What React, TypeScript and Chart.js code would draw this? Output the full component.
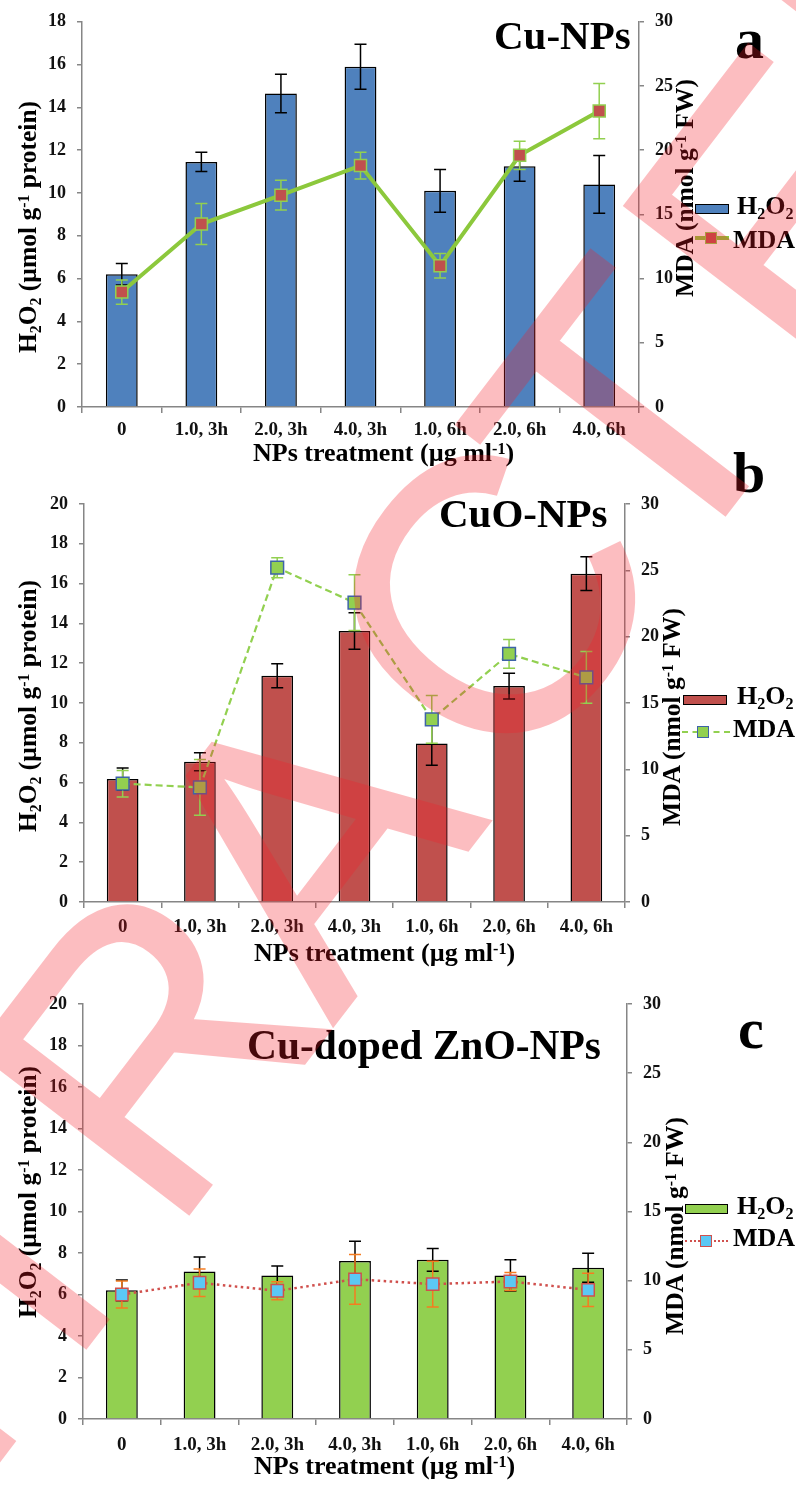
import React, { useEffect, useRef } from 'react';
import { Chart, registerables } from 'chart.js';
Chart.register(...registerables);

// ---------------- data ----------------
const categories = ['0', '1.0, 3h', '2.0, 3h', '4.0, 3h', '1.0, 6h', '2.0, 6h', '4.0, 6h'];

// Panel a: Cu-NPs
const h2o2CuNP = [6.2, 11.45, 14.65, 15.9, 10.1, 11.25, 10.4];
const h2o2CuNPErr = [0.5, 0.45, 0.9, 1.05, 1.0, 0.7, 1.35];
const mdaCuNP = [8.95, 14.25, 16.5, 18.8, 11.0, 19.6, 23.05];
const mdaCuNPErr = [0.95, 1.6, 1.15, 1.05, 0.95, 1.1, 2.15];

// Panel b: CuO-NPs
const h2o2CuO = [6.18, 7.05, 11.37, 13.62, 7.97, 10.85, 16.5];
const h2o2CuOErr = [0.55, 0.45, 0.6, 0.92, 1.1, 0.65, 0.85];
const mdaCuO = [8.92, 8.64, 25.2, 22.56, 13.77, 18.7, 16.93];
const mdaCuOErr = [1.0, 2.1, 0.75, 2.1, 1.8, 1.08, 1.95];

// Panel c: Cu-doped ZnO-NPs
const h2o2ZnO = [6.2, 7.11, 6.92, 7.62, 7.67, 6.92, 7.29];
const h2o2ZnOErr = [0.5, 0.7, 0.45, 0.95, 0.55, 0.75, 0.7];
const mdaZnO = [9.0, 9.85, 9.27, 10.1, 9.75, 9.94, 9.34];
const mdaZnOErr = [0.97, 1.0, 0.65, 1.8, 1.65, 0.65, 1.2];

// watermark word
const watermarkLetters: [string, number][] = [
  ['R', -1660], ['E', -1378], ['T', -1118], ['R', -880], ['A', -612],
  ['C', -320], ['T', -68], ['E', 185], ['D', 445],
];

const SERIF = '"Liberation Serif", "Times New Roman", serif';
const W = 796;
const H = 1511;

type PanelCfg = {
  top: number; h: number; plotTop: number; plotBottom: number; left: number; right: number;
  leftMax: number; bars: number[]; barErr: number[]; mda: number[]; mdaErr: number[];
  barColor: string; barPct: number; lineColor: string; lineWidth: number; dash: number[];
  ptFill: string; ptBorder: string; ptRadius: number; mdaErrColor: string; xPad: number;
};

const panels: PanelCfg[] = [
  {
    top: 0, h: 470, plotTop: 17, plotBottom: 407, left: 82, right: 639, leftMax: 18,
    bars: h2o2CuNP, barErr: h2o2CuNPErr, mda: mdaCuNP, mdaErr: mdaCuNPErr,
    barColor: '#4F81BD', barPct: 0.4, lineColor: '#8CC83C', lineWidth: 4, dash: [],
    ptFill: '#C0504D', ptBorder: '#92D050', ptRadius: 8.5, mdaErrColor: '#92D050', xPad: 6,
  },
  {
    top: 470, h: 490, plotTop: 504, plotBottom: 902, left: 84, right: 625, leftMax: 20,
    bars: h2o2CuO, barErr: h2o2CuOErr, mda: mdaCuO, mdaErr: mdaCuOErr,
    barColor: '#C0504D', barPct: 0.41, lineColor: '#92D050', lineWidth: 2.2, dash: [7, 4],
    ptFill: '#92D050', ptBorder: '#3E63A8', ptRadius: 9, mdaErrColor: '#92D050', xPad: 8,
  },
  {
    top: 960, h: 551, plotTop: 1004, plotBottom: 1419, left: 83, right: 627, leftMax: 20,
    bars: h2o2ZnO, barErr: h2o2ZnOErr, mda: mdaZnO, mdaErr: mdaZnOErr,
    barColor: '#92D050', barPct: 0.41, lineColor: '#D0504D', lineWidth: 2.5, dash: [2.5, 3.5],
    ptFill: '#5BC8F5', ptBorder: '#D0504D', ptRadius: 8.7, mdaErrColor: '#F57C20', xPad: 9,
  },
];

const errorBarPlugin = {
  id: 'errorBars',
  beforeDatasetDraw(chart: any, args: any) {
    const ds = chart.data.datasets[args.index];
    if (ds.type !== 'line') return;
    const ctx = chart.ctx;
    chart.data.datasets.forEach((d: any, i: number) => {
      const meta = chart.getDatasetMeta(i);
      const yScale = chart.scales[meta.yAxisID];
      ctx.save();
      ctx.strokeStyle = d.errorColor;
      ctx.lineWidth = 1.5;
      meta.data.forEach((el: any, j: number) => {
        const v = d.data[j];
        const e = d.errors[j];
        const x = el.x;
        const yt = yScale.getPixelForValue(v + e);
        const yb = yScale.getPixelForValue(v - e);
        const cap = 6;
        ctx.beginPath();
        ctx.moveTo(x, yt); ctx.lineTo(x, yb);
        ctx.moveTo(x - cap, yt); ctx.lineTo(x + cap, yt);
        ctx.moveTo(x - cap, yb); ctx.lineTo(x + cap, yb);
        ctx.stroke();
      });
      ctx.restore();
    });
  },
};

function buildConfig(p: PanelCfg): any {
  const tickFont = { family: SERIF, size: 18, weight: 'bold' as const };
  const axisColor = '#868686';
  return {
    type: 'bar',
    data: {
      labels: categories,
      datasets: [
        {
          type: 'bar', label: 'H2O2', data: p.bars, errors: p.barErr, errorColor: '#000',
          backgroundColor: p.barColor, borderColor: '#000', borderWidth: 1.5,
          yAxisID: 'y', order: 2, barPercentage: p.barPct, categoryPercentage: 1,
        },
        {
          type: 'line', label: 'MDA', data: p.mda, errors: p.mdaErr, errorColor: p.mdaErrColor,
          borderColor: p.lineColor, borderWidth: p.lineWidth, borderDash: p.dash,
          pointStyle: 'rect', pointRadius: p.ptRadius, pointBackgroundColor: p.ptFill,
          pointBorderColor: p.ptBorder, pointBorderWidth: 1.5, yAxisID: 'y1', order: 1,
          tension: 0, fill: false,
        },
      ],
    },
    options: {
      animation: false,
      responsive: false,
      maintainAspectRatio: false,
      layout: { padding: { top: p.plotTop - p.top, bottom: 0, left: 0, right: 0 } },
      plugins: { legend: { display: false }, tooltip: { enabled: false } },
      scales: {
        x: {
          type: 'category', offset: true,
          grid: { offset: true, drawOnChartArea: false, drawTicks: true, tickLength: 6, color: axisColor, lineWidth: 1.5 },
          border: { display: true, color: axisColor, width: 1.5 },
          ticks: { font: { ...tickFont, size: 19 }, color: '#111', padding: p.xPad, maxRotation: 0, autoSkip: false },
          afterFit: (s: any) => { s.height = p.top + p.h - p.plotBottom; },
        },
        y: {
          position: 'left', min: 0, max: p.leftMax,
          ticks: { stepSize: 2, font: tickFont, color: '#111', padding: 11 },
          grid: { drawOnChartArea: false, drawTicks: true, tickLength: 5, color: axisColor, lineWidth: 1.5 },
          border: { display: true, color: axisColor, width: 1.5 },
          afterFit: (s: any) => { s.width = p.left; },
        },
        y1: {
          position: 'right', min: 0, max: 30,
          ticks: { stepSize: 5, font: tickFont, color: '#111', padding: 11 },
          grid: { drawOnChartArea: false, drawTicks: true, tickLength: 5, color: axisColor, lineWidth: 1.5 },
          border: { display: true, color: axisColor, width: 1.5 },
          afterFit: (s: any) => { s.width = W - p.right; },
        },
      },
    },
    plugins: [errorBarPlugin],
  };
}

function Panel({ cfg }: { cfg: PanelCfg }) {
  const ref = useRef<HTMLCanvasElement>(null);
  useEffect(() => {
    const chart = new Chart(ref.current as HTMLCanvasElement, buildConfig(cfg));
    return () => chart.destroy();
  }, []);
  return (
    <canvas ref={ref} width={W} height={cfg.h}
      style={{ position: 'absolute', left: 0, top: cfg.top, width: W, height: cfg.h }} />
  );
}

function Watermark() {
  const ref = useRef<HTMLCanvasElement>(null);
  useEffect(() => {
    const c = ref.current as HTMLCanvasElement;
    const ctx = c.getContext('2d') as CanvasRenderingContext2D;
    ctx.clearRect(0, 0, W, H);
    ctx.save();
    ctx.rotate((-52.5 * Math.PI) / 180);
    ctx.fillStyle = 'rgb(245,30,40)';
    ctx.strokeStyle = 'rgb(245,30,40)';
    ctx.lineWidth = 2.5;
    ctx.lineJoin = 'miter';
    ctx.font = '390px "Liberation Sans", Arial, sans-serif';
    ctx.textBaseline = 'alphabetic';
    watermarkLetters.forEach(([ch, s]) => {
      ctx.fillText(ch, s, 889);
      ctx.strokeText(ch, s, 889);
    });
    ctx.restore();
  }, []);
  return (
    <canvas ref={ref} width={W} height={H}
      style={{ position: 'absolute', left: 0, top: 0, width: W, height: H, opacity: 0.29, pointerEvents: 'none' }} />
  );
}

const Sub = ({ c }: { c: string }) => (
  <span style={{ fontSize: '0.62em', position: 'relative', top: '0.32em' }}>{c}</span>
);
const Sup = ({ c }: { c: string }) => (
  <span style={{ fontSize: '0.62em', position: 'relative', top: '-0.45em' }}>{c}</span>
);

function Txt({ x, base, size, children }: { x: number; base: number; size: number; children: any }) {
  return (
    <div style={{
      position: 'absolute', left: x, top: base - 0.8375 * size, fontFamily: SERIF, fontWeight: 'bold',
      fontSize: size, lineHeight: 1, whiteSpace: 'nowrap', color: '#000',
    }}>{children}</div>
  );
}

function VTxt({ cx, cy, size, children }: { cx: number; cy: number; size: number; children: any }) {
  return (
    <div style={{
      position: 'absolute', left: cx, top: cy, transform: 'translate(-50%,-50%) rotate(-90deg)',
      fontFamily: SERIF, fontWeight: 'bold', fontSize: size, lineHeight: 1, whiteSpace: 'nowrap', color: '#000',
    }}>{children}</div>
  );
}

function Box({ x, y, w, h, style }: { x: number; y: number; w: number; h: number; style: any }) {
  return <div style={{ position: 'absolute', left: x, top: y, width: w, height: h, boxSizing: 'border-box', ...style }} />;
}

const leftTitle = <>H<Sub c="2" />O<Sub c="2" /> (µmol g<Sup c="-1" /> protein)</>;
const rightTitle = <>MDA (nmol g<Sup c="-1" /> FW)</>;
const xTitle = <>NPs treatment (µg ml<Sup c="-1" />)</>;
const h2o2Label = <>H<Sub c="2" />O<Sub c="2" /></>;

export default function App() {
  return (
    <div style={{ position: 'absolute', left: 0, top: 0, width: W, height: H, background: '#fff', overflow: 'hidden' }}>
      {panels.map((p, i) => <Panel key={i} cfg={p} />)}

      {/* panel titles */}
      <Txt x={494} base={49} size={41}>Cu-NPs</Txt>
      <Txt x={439} base={527} size={41}>CuO-NPs</Txt>
      <Txt x={247} base={1060} size={41.5}>Cu-doped ZnO-NPs</Txt>

      {/* panel letters */}
      <Txt x={735} base={59} size={58}>a</Txt>
      <Txt x={733} base={493} size={58}>b</Txt>
      <Txt x={738} base={1049} size={58}>c</Txt>

      {/* x titles */}
      <Txt x={253} base={462} size={26}>{xTitle}</Txt>
      <Txt x={254} base={962} size={26}>{xTitle}</Txt>
      <Txt x={254} base={1475} size={26}>{xTitle}</Txt>

      {/* y titles */}
      <VTxt cx={28} cy={226.5} size={25.5}>{leftTitle}</VTxt>
      <VTxt cx={28} cy={706} size={25.5}>{leftTitle}</VTxt>
      <VTxt cx={28} cy={1192} size={25.5}>{leftTitle}</VTxt>
      <VTxt cx={685} cy={187.5} size={25.5}>{rightTitle}</VTxt>
      <VTxt cx={672} cy={717} size={25.5}>{rightTitle}</VTxt>
      <VTxt cx={675} cy={1226} size={25.5}>{rightTitle}</VTxt>

      {/* legend a */}
      <Box x={695} y={204} w={34} h={10} style={{ background: '#4F81BD', border: '1.5px solid #000' }} />
      <Txt x={737} base={215} size={26}>{h2o2Label}</Txt>
      <Box x={695} y={236} w={34} h={4} style={{ background: '#8CC83C' }} />
      <Box x={705} y={232} w={12} h={12} style={{ background: '#C0504D', border: '1.5px solid #92D050' }} />
      <Txt x={733} base={249} size={26}>MDA</Txt>

      {/* legend b */}
      <Box x={683} y={695} w={44} h={10} style={{ background: '#C0504D', border: '1.5px solid #000' }} />
      <Txt x={737} base={705} size={26}>{h2o2Label}</Txt>
      <Box x={682} y={731} w={48} h={0} style={{ borderTop: '2px dashed #92D050' }} />
      <Box x={697} y={726} w={12} h={12} style={{ background: '#92D050', border: '1.5px solid #3E63A8' }} />
      <Txt x={733} base={738} size={26}>MDA</Txt>

      {/* legend c */}
      <Box x={685} y={1204} w={43} h={10} style={{ background: '#92D050', border: '1.5px solid #000' }} />
      <Txt x={737} base={1215} size={26}>{h2o2Label}</Txt>
      <Box x={685} y={1240} w={43} h={0} style={{ borderTop: '2px dotted #D0504D' }} />
      <Box x={700} y={1235} w={12} h={12} style={{ background: '#5BC8F5', border: '1.5px solid #D0504D' }} />
      <Txt x={733} base={1247} size={26}>MDA</Txt>

      <Watermark />
    </div>
  );
}
